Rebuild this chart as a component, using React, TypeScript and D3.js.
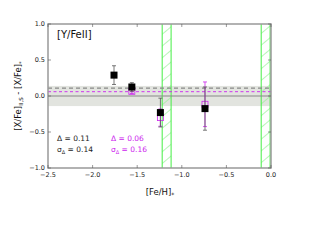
import React from "react";
import * as d3 from "d3";

const feH = [-1.76, -1.56, -1.24, -0.74];
const dBlack = [0.29, 0.125, -0.23, -0.175];
const eBlack = [0.13, 0.06, 0.2, 0.3];
const dMag = [0.29, 0.065, -0.3, -0.115];
const eMag = [0.13, 0.03, 0.12, 0.31];
const showMag = [false, true, true, true];
const greenBands: [number, number][] = [[-1.22, -1.12], [-0.11, -0.01]];
const xTicks = [-2.5, -2.0, -1.5, -1.0, -0.5, 0.0];
const yTicks = [-1.0, -0.5, 0.0, 0.5, 1.0];
const meanBlack = 0.11;
const meanMag = 0.06;
const sigBand = 0.14;

const W = 320, H = 240;
const L = 48, R = 271, T = 24, B = 168;
const MAG = "#cc22ee";

export default function App() {
  const x = d3.scaleLinear().domain([-2.5, 0]).range([L, R]);
  const y = d3.scaleLinear().domain([-1, 1]).range([B, T]);
  const fmt = (v: number) => v.toFixed(1).replace("-", "\u2212");
  return (
    <svg width={W} height={H} style={{ position: "absolute", left: 0, top: 0, fontFamily: "DejaVu Sans" }}>
      <defs>
        <pattern id="hatch" patternUnits="userSpaceOnUse" width="9" height="9" patternTransform="rotate(-40)">
          <line x1="0" y1="4.5" x2="9" y2="4.5" stroke="#99f099" strokeWidth="0.7" />
        </pattern>
        <clipPath id="clip"><rect x={L} y={T} width={R - L} height={B - T} /></clipPath>
      </defs>
      <g clipPath="url(#clip)">
        <rect x={L} y={y(sigBand)} width={R - L} height={y(-sigBand) - y(sigBand)} fill="#e2e4df" />
        {greenBands.map((b, i) => (
          <g key={i}>
            <rect x={x(b[0])} y={T} width={x(b[1]) - x(b[0])} height={B - T} fill="url(#hatch)" />
            <line x1={x(b[0])} x2={x(b[0])} y1={T} y2={B} stroke="#44ee44" strokeWidth={1} />
            <line x1={x(b[1])} x2={x(b[1])} y1={T} y2={B} stroke="#44ee44" strokeWidth={1} />
          </g>
        ))}
        <line x1={L} x2={R} y1={y(0)} y2={y(0)} stroke="#888" strokeWidth={1.2} />
        <line x1={L} x2={R} y1={y(meanBlack)} y2={y(meanBlack)} stroke="#888" strokeWidth={1.2} strokeDasharray="4,3" />
        <line x1={L} x2={R} y1={y(meanMag)} y2={y(meanMag)} stroke={MAG} strokeWidth={0.9} strokeDasharray="3,2.5" />
        {feH.map((f, i) => showMag[i] ? (
          <g key={"m" + i}>
            <line x1={x(f)} x2={x(f)} y1={y(dMag[i] + eMag[i])} y2={y(dMag[i] - eMag[i])} stroke={MAG} strokeWidth={0.8} />
            <line x1={x(f) - 2} x2={x(f) + 2} y1={y(dMag[i] + eMag[i])} y2={y(dMag[i] + eMag[i])} stroke={MAG} strokeWidth={0.8} />
            <line x1={x(f) - 2} x2={x(f) + 2} y1={y(dMag[i] - eMag[i])} y2={y(dMag[i] - eMag[i])} stroke={MAG} strokeWidth={0.8} />
            <rect x={x(f) - 3} y={y(dMag[i]) - 3} width={6} height={6} fill="none" stroke={MAG} strokeWidth={0.8} />
          </g>
        ) : null)}
        {feH.map((f, i) => (
          <g key={"b" + i}>
            <line x1={x(f)} x2={x(f)} y1={y(dBlack[i] + eBlack[i])} y2={y(dBlack[i] - eBlack[i])} stroke="#555" strokeWidth={0.8} />
            <line x1={x(f) - 2} x2={x(f) + 2} y1={y(dBlack[i] + eBlack[i])} y2={y(dBlack[i] + eBlack[i])} stroke="#555" strokeWidth={0.8} />
            <line x1={x(f) - 2} x2={x(f) + 2} y1={y(dBlack[i] - eBlack[i])} y2={y(dBlack[i] - eBlack[i])} stroke="#555" strokeWidth={0.8} />
            <rect x={x(f) - 3.5} y={y(dBlack[i]) - 3.5} width={7} height={7} fill="#000" />
          </g>
        ))}
      </g>
      <rect x={L} y={T} width={R - L} height={B - T} fill="none" stroke="#999" strokeWidth={1.5} />
      {xTicks.map((t) => (
        <g key={"x" + t}>
          <line x1={x(t)} x2={x(t)} y1={B} y2={B - 3} stroke="#555" strokeWidth={0.6} />
          <line x1={x(t)} x2={x(t)} y1={T} y2={T + 3} stroke="#555" strokeWidth={0.6} />
          <text x={x(t)} y={B + 9} fontSize={6.5} textAnchor="middle" fill="#222">{fmt(t)}</text>
        </g>
      ))}
      {yTicks.map((t) => (
        <g key={"y" + t}>
          <line x1={L} x2={L + 3} y1={y(t)} y2={y(t)} stroke="#555" strokeWidth={0.6} />
          <line x1={R} x2={R - 3} y1={y(t)} y2={y(t)} stroke="#555" strokeWidth={0.6} />
          <text x={L - 3} y={y(t) + 2.3} fontSize={6.5} textAnchor="end" fill="#222">{fmt(t)}</text>
        </g>
      ))}
      <text x={57} y={38} fontSize={10} fill="#111">[Y/FeII]</text>
      <text x={57} y={141} fontSize={7.5} fill="#222">{"\u0394 = 0.11"}</text>
      <text x={57} y={152} fontSize={7.5} fill="#222">σ<tspan fontSize={5} dy={1.5}>Δ</tspan><tspan dy={-1.5}> = 0.14</tspan></text>
      <text x={111} y={141} fontSize={7.5} fill={MAG}>{"\u0394 = 0.06"}</text>
      <text x={111} y={152} fontSize={7.5} fill={MAG}>σ<tspan fontSize={5} dy={1.5}>Δ</tspan><tspan dy={-1.5}> = 0.16</tspan></text>
      <text x={160} y={195} fontSize={8.5} textAnchor="middle" fill="#111">[Fe/H]<tspan fontSize={6} dy={2}>*</tspan></text>
      <text transform={`translate(21,${(T + B) / 2}) rotate(-90)`} fontSize={8.5} textAnchor="middle" fill="#111">
        [X/Fe]<tspan fontSize={5.5} dy={2}>II,S</tspan><tspan dy={-2}> - [X/Fe]</tspan><tspan fontSize={5.5} dy={2}>*</tspan>
      </text>
    </svg>
  );
}
